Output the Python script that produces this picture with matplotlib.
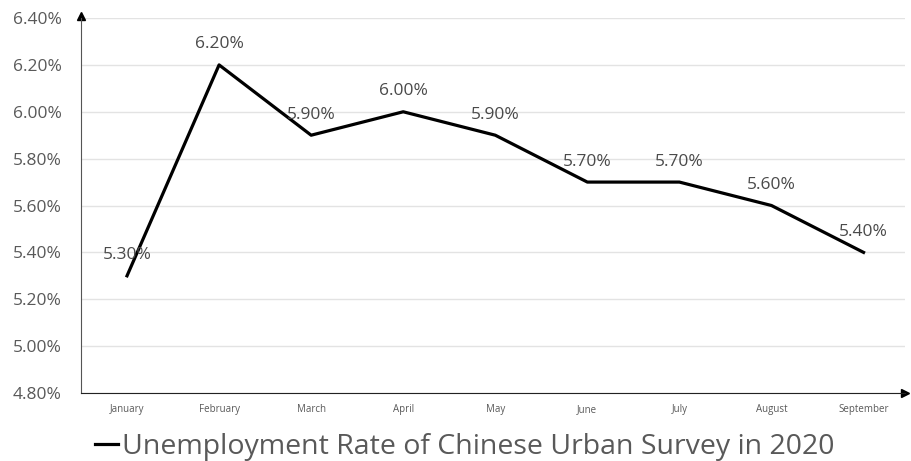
import numpy as np
import matplotlib.pyplot as plt

plt.rcParams['font.family'] = ['Open Sans', 'DejaVu Sans']

months = ['January', 'February', 'March', 'April', 'May', 'June', 'July', 'August', 'September']
rate = [5.3, 6.2, 5.9, 6.0, 5.9, 5.7, 5.7, 5.6, 5.4]
yticks = [4.8, 5.0, 5.2, 5.4, 5.6, 5.8, 6.0, 6.2, 6.4]

fig = plt.figure(figsize=(9.12, 4.61), dpi=100)
ax = fig.add_axes([0.0888, 0.1475, 0.9035, 0.8134])

x = np.arange(len(months))
ax.plot(x, rate, color='black', lw=2.3, label='Unemployment Rate of Chinese Urban Survey in 2020')

for xi, v in zip(x, rate):
    ax.annotate(f'{v:.2f}%', (xi, v), xytext=(0, 9), textcoords='offset points',
                ha='center', va='bottom', fontsize=12.5, color='#4a4a4a')

ax.set_xlim(-0.5, 8.45)
ax.set_ylim(4.8, 6.4)
ax.set_yticks(yticks)
ax.set_yticklabels([f'{t:.2f}%' for t in yticks], fontsize=12.5, color='#595959')
ax.set_xticks(x)
ax.set_xticklabels(months, fontsize=7, color='#595959')
ax.tick_params(length=0, pad=8)
ax.tick_params(axis='y', pad=14)

ax.grid(axis='y', color='#e3e3e3', lw=1)
ax.set_axisbelow(True)
for s in ['top', 'right']:
    ax.spines[s].set_visible(False)
ax.spines['left'].set_color('#555555')
ax.spines['bottom'].set_color('#222222')

# arrow heads on the axes
ax.plot(1, 4.8, '>', color='black', ms=6, transform=ax.get_yaxis_transform(), clip_on=False)
ax.plot(-0.5, 1.005, '^', color='black', ms=6, transform=ax.get_xaxis_transform(), clip_on=False)

fig.legend(loc='lower center', bbox_to_anchor=(0.51, -0.055), frameon=False,
           fontsize=20.5, handlelength=0.8, handletextpad=0.15, labelcolor='#595959')

fig.savefig('out.png', dpi=100)
